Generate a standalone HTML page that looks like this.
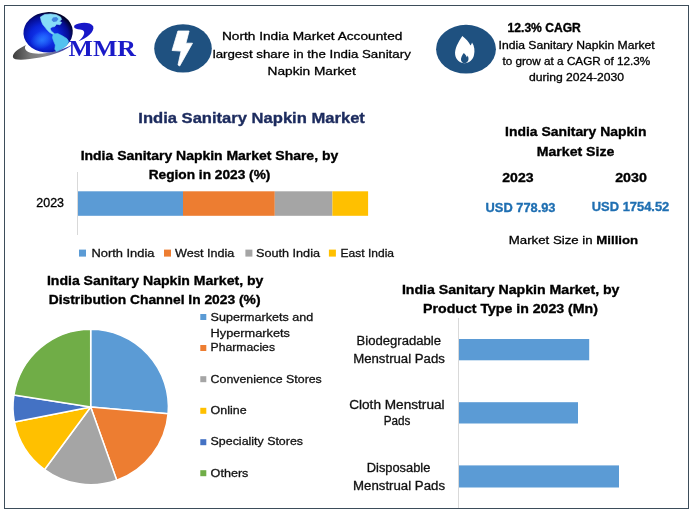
<!DOCTYPE html>
<html lang="en"><head><meta charset="utf-8"><title>India Sanitary Napkin Market</title>
<style>
html,body{margin:0;padding:0;background:#fff;}
svg{display:block;}
text{white-space:pre;}
</style></head><body>
<svg width="694" height="516" viewBox="0 0 694 516">
<defs>
<radialGradient id="gl" cx="0.42" cy="0.6" r="0.6">
<stop offset="0" stop-color="#1848ff"/><stop offset="0.5" stop-color="#0a24d8"/><stop offset="0.82" stop-color="#050c90"/><stop offset="1" stop-color="#01032c"/>
</radialGradient>
<radialGradient id="glow" cx="0.5" cy="0.5" r="0.5">
<stop offset="0" stop-color="#2a7cff" stop-opacity="0.9"/><stop offset="1" stop-color="#2a7cff" stop-opacity="0"/>
</radialGradient>
<linearGradient id="sw" x1="0" y1="0" x2="1" y2="0">
<stop offset="0" stop-color="#3c3c3c"/><stop offset="0.3" stop-color="#7a7a7a"/><stop offset="0.55" stop-color="#8a8a90"/><stop offset="0.8" stop-color="#4a50a8"/><stop offset="1" stop-color="#1a28b8"/>
</linearGradient>
</defs>
<rect x="0" y="0" width="694" height="516" fill="#ffffff"/>
<rect x="4.5" y="5.5" width="684" height="503" fill="none" stroke="#3d4d5a" stroke-width="1"/>

<g id="logo">
<path d="M12.9,56.7 C12.6,53.5 17,49.5 25.9,45 C23.6,48.6 25.5,52 33,53.3 C44,54.8 60,51.5 72.8,44.3 C66,50.5 54,55 40,57.6 C30,59.4 20,60.2 15.5,59.2 C13.8,58.6 13,57.8 12.9,56.7 Z" fill="url(#sw)"/>
<ellipse cx="48.1" cy="32.3" rx="24.7" ry="20.2" fill="url(#gl)" transform="rotate(-4 48.1 32.3)"/>
<ellipse cx="42" cy="40" rx="12" ry="9" fill="url(#glow)" transform="rotate(-20 42 40)"/>
<path d="M40.4,17 L44.5,14.6 L50.7,13.9 L56.5,14.8 L60.6,17 L61.6,19.5 L59.4,21.3 L61.7,22.4 L60,24.8 L56.5,24.2 L54.8,26.5 L51.9,27.1 L50.1,28.8 L51.3,31.2 L53.6,32.9 L54.8,35 L52.4,34.1 L49.5,32.3 L47.2,30 L44.9,27.1 L42.6,24.2 L41.2,20.7 Z" fill="#86dcf8" stroke="#86dcf8" stroke-width="0.6" stroke-linejoin="round"/>
<path d="M53,17.5 L56.5,17 L58.5,19 L56.5,21.5 L53.5,22 L51.5,20 Z" fill="#2a66d8" opacity="0.75"/>
<path d="M53.3,34.1 L57.7,33.5 L62.3,35.8 L67,38.7 L68.7,41.6 L67,45.1 L64.1,47.4 L60,49.8 L56.5,51.5 L54.8,49.2 L55.3,45.1 L53.6,41 L52.4,37.6 Z" fill="#52c2f0" stroke="#52c2f0" stroke-width="0.6" stroke-linejoin="round"/>
<path d="M74.6,25.2 C79,22 90.5,21.4 93.2,26.2 C95,31.8 86.5,38.3 78.4,41.3 C84.3,36.3 86,31.6 82.3,30 C79.5,28.9 76.2,29.6 74.7,28 C74,27.2 73.9,26 74.6,25.2 Z" fill="#1818c8"/>
</g>
<text x="68.6" y="55.6" textLength="67.4" lengthAdjust="spacingAndGlyphs" font-family='"Liberation Serif", serif' font-size="22.8" font-weight="bold" fill="#1a1ac8" >MMR</text>
<ellipse cx="183" cy="48.4" rx="28.8" ry="24.2" fill="#1f5180"/>
<path d="M177.9,31 L189.1,31 L185.9,43.2 L192.5,43.2 L179.7,66 L178,64.9 L181.1,51.1 L172.1,50.5 Z" fill="#fff" stroke="#fff" stroke-width="0.8" stroke-linejoin="round"/>
<ellipse cx="466" cy="49.2" rx="29.9" ry="24.4" fill="#1f5180"/>
<path d="M462.3,36 C466,39 469,42 470.5,45.5 C471.3,44.5 471.8,43.5 472,42.5 C474.5,46 475,51 474,55 C473,59.5 469.5,63 464.5,63.2 C459.5,63 456,59.5 455.2,55 C454.3,48.5 458.5,42 462.3,36 Z" fill="#fff"/>
<path d="M463.8,53 C465.2,54.2 466.3,55.6 466.8,57.2 C467.2,56.6 467.5,56 467.6,55.4 C468.8,57.4 468.8,59.8 467.8,61.3 C467,62.6 465.8,63.2 464.6,63.2 C463,63.2 461.6,62.2 461.1,60.6 C460.5,58 462,55.4 463.8,53 Z" fill="#1f5180"/>
<text x="221.9" y="39.8" textLength="180.5" lengthAdjust="spacingAndGlyphs" font-family='"Liberation Sans", sans-serif' font-size="11.8" font-weight="normal" fill="#000" stroke="#000" stroke-width="0.3">North India Market Accounted</text>
<text x="212.7" y="57.5" textLength="198.1" lengthAdjust="spacingAndGlyphs" font-family='"Liberation Sans", sans-serif' font-size="11.8" font-weight="normal" fill="#000" stroke="#000" stroke-width="0.3">largest share in the India Sanitary</text>
<text x="267.6" y="75.3" textLength="88.2" lengthAdjust="spacingAndGlyphs" font-family='"Liberation Sans", sans-serif' font-size="11.8" font-weight="normal" fill="#000" stroke="#000" stroke-width="0.3">Napkin Market</text>
<text x="507.6" y="32.0" textLength="73.2" lengthAdjust="spacingAndGlyphs" font-family='"Liberation Sans", sans-serif' font-size="12.0" font-weight="bold" fill="#000" stroke="#000" stroke-width="0.35">12.3% CAGR</text>
<text x="498.6" y="49.1" textLength="156.1" lengthAdjust="spacingAndGlyphs" font-family='"Liberation Sans", sans-serif' font-size="11.1" font-weight="normal" fill="#000" stroke="#000" stroke-width="0.3">India Sanitary Napkin Market</text>
<text x="502.4" y="64.7" textLength="147.9" lengthAdjust="spacingAndGlyphs" font-family='"Liberation Sans", sans-serif' font-size="11.1" font-weight="normal" fill="#000" stroke="#000" stroke-width="0.3">to grow at a CAGR of 12.3%</text>
<text x="528.9" y="80.7" textLength="95.2" lengthAdjust="spacingAndGlyphs" font-family='"Liberation Sans", sans-serif' font-size="11.1" font-weight="normal" fill="#000" stroke="#000" stroke-width="0.3">during 2024-2030</text>
<text x="138.3" y="122.6" textLength="226.6" lengthAdjust="spacingAndGlyphs" font-family='"Liberation Sans", sans-serif' font-size="15.2" font-weight="bold" fill="#1c2b5e" stroke="#1c2b5e" stroke-width="0.35">India Sanitary Napkin Market</text>
<text x="80.7" y="159.6" textLength="257.5" lengthAdjust="spacingAndGlyphs" font-family='"Liberation Sans", sans-serif' font-size="13.2" font-weight="bold" fill="#000" stroke="#000" stroke-width="0.35">India Sanitary Napkin Market Share, by</text>
<text x="148.7" y="178.9" textLength="121.7" lengthAdjust="spacingAndGlyphs" font-family='"Liberation Sans", sans-serif' font-size="13.2" font-weight="bold" fill="#000" stroke="#000" stroke-width="0.35">Region in 2023 (%)</text>
<line x1="77.5" y1="172" x2="77.5" y2="235" stroke="#d9d9d9" stroke-width="1"/>
<rect x="78" y="191.3" width="105.0" height="24.5" fill="#5b9bd5"/>
<rect x="183" y="191.3" width="91.8" height="24.5" fill="#ed7d31"/>
<rect x="274.8" y="191.3" width="57.6" height="24.5" fill="#a5a5a5"/>
<rect x="332.4" y="191.3" width="35.7" height="24.5" fill="#ffc000"/>
<text x="36.3" y="207.1" textLength="27.7" lengthAdjust="spacingAndGlyphs" font-family='"Liberation Sans", sans-serif' font-size="12.2" font-weight="normal" fill="#000" stroke="#000" stroke-width="0.3">2023</text>
<rect x="79" y="249.6" width="7" height="7" fill="#5b9bd5"/>
<text x="91.4" y="256.7" textLength="63.1" lengthAdjust="spacingAndGlyphs" font-family='"Liberation Sans", sans-serif' font-size="11.7" font-weight="normal" fill="#111" stroke="#111" stroke-width="0.3">North India</text>
<rect x="164" y="249.6" width="7" height="7" fill="#ed7d31"/>
<text x="175.0" y="256.7" textLength="59.4" lengthAdjust="spacingAndGlyphs" font-family='"Liberation Sans", sans-serif' font-size="11.7" font-weight="normal" fill="#111" stroke="#111" stroke-width="0.3">West India</text>
<rect x="245.4" y="249.6" width="7" height="7" fill="#a5a5a5"/>
<text x="256.0" y="256.7" textLength="64.0" lengthAdjust="spacingAndGlyphs" font-family='"Liberation Sans", sans-serif' font-size="11.7" font-weight="normal" fill="#111" stroke="#111" stroke-width="0.3">South India</text>
<rect x="328.9" y="249.6" width="7" height="7" fill="#ffc000"/>
<text x="340.5" y="256.7" textLength="53.5" lengthAdjust="spacingAndGlyphs" font-family='"Liberation Sans", sans-serif' font-size="11.7" font-weight="normal" fill="#111" stroke="#111" stroke-width="0.3">East India</text>
<text x="505.1" y="136.2" textLength="141.4" lengthAdjust="spacingAndGlyphs" font-family='"Liberation Sans", sans-serif' font-size="13.2" font-weight="bold" fill="#000" stroke="#000" stroke-width="0.35">India Sanitary Napkin</text>
<text x="536.8" y="156.4" textLength="77.5" lengthAdjust="spacingAndGlyphs" font-family='"Liberation Sans", sans-serif' font-size="13.2" font-weight="bold" fill="#000" stroke="#000" stroke-width="0.35">Market Size</text>
<text x="502.3" y="181.9" textLength="31.2" lengthAdjust="spacingAndGlyphs" font-family='"Liberation Sans", sans-serif' font-size="13.0" font-weight="bold" fill="#000" stroke="#000" stroke-width="0.35">2023</text>
<text x="615.2" y="181.9" textLength="31.6" lengthAdjust="spacingAndGlyphs" font-family='"Liberation Sans", sans-serif' font-size="13.0" font-weight="bold" fill="#000" stroke="#000" stroke-width="0.35">2030</text>
<text x="485.6" y="211.6" textLength="69.9" lengthAdjust="spacingAndGlyphs" font-family='"Liberation Sans", sans-serif' font-size="12.9" font-weight="bold" fill="#1f6fb2" stroke="#1f6fb2" stroke-width="0.35">USD 778.93</text>
<text x="591.8" y="210.8" textLength="77.5" lengthAdjust="spacingAndGlyphs" font-family='"Liberation Sans", sans-serif' font-size="12.9" font-weight="bold" fill="#1f6fb2" stroke="#1f6fb2" stroke-width="0.35">USD 1754.52</text>
<text x="508.8" y="244" textLength="129.4" lengthAdjust="spacingAndGlyphs" font-family='"Liberation Sans", sans-serif' font-size="11.8" fill="#000" stroke="#000" stroke-width="0.3">Market Size in <tspan font-weight="bold">Million</tspan></text>
<text x="46.9" y="284.9" textLength="216.5" lengthAdjust="spacingAndGlyphs" font-family='"Liberation Sans", sans-serif' font-size="13.2" font-weight="bold" fill="#000" stroke="#000" stroke-width="0.35">India Sanitary Napkin Market, by</text>
<text x="48.7" y="304.2" textLength="211.8" lengthAdjust="spacingAndGlyphs" font-family='"Liberation Sans", sans-serif' font-size="13.2" font-weight="bold" fill="#000" stroke="#000" stroke-width="0.35">Distribution Channel In 2023 (%)</text>
<path d="M90.7,407 L90.70,329.30 A77.7,77.7 0 0 1 168.12,413.64 Z" fill="#5b9bd5" stroke="#fff" stroke-width="1.5" stroke-linejoin="round"/>
<path d="M90.7,407 L168.12,413.64 A77.7,77.7 0 0 1 116.76,480.20 Z" fill="#ed7d31" stroke="#fff" stroke-width="1.5" stroke-linejoin="round"/>
<path d="M90.7,407 L116.76,480.20 A77.7,77.7 0 0 1 44.59,469.54 Z" fill="#a5a5a5" stroke="#fff" stroke-width="1.5" stroke-linejoin="round"/>
<path d="M90.7,407 L44.59,469.54 A77.7,77.7 0 0 1 14.48,422.09 Z" fill="#ffc000" stroke="#fff" stroke-width="1.5" stroke-linejoin="round"/>
<path d="M90.7,407 L14.48,422.09 A77.7,77.7 0 0 1 13.91,395.11 Z" fill="#4472c4" stroke="#fff" stroke-width="1.5" stroke-linejoin="round"/>
<path d="M90.7,407 L13.91,395.11 A77.7,77.7 0 0 1 90.70,329.30 Z" fill="#70ad47" stroke="#fff" stroke-width="1.5" stroke-linejoin="round"/>
<rect x="200.3" y="314" width="6" height="6" fill="#5b9bd5"/>
<text x="210.6" y="320.5" textLength="102.6" lengthAdjust="spacingAndGlyphs" font-family='"Liberation Sans", sans-serif' font-size="11.7" font-weight="normal" fill="#111" stroke="#111" stroke-width="0.3">Supermarkets and</text>
<text x="210.6" y="337.2" textLength="79.4" lengthAdjust="spacingAndGlyphs" font-family='"Liberation Sans", sans-serif' font-size="11.7" font-weight="normal" fill="#111" stroke="#111" stroke-width="0.3">Hypermarkets</text>
<rect x="200.3" y="345" width="6" height="6" fill="#ed7d31"/>
<text x="210.6" y="351.4" textLength="64.4" lengthAdjust="spacingAndGlyphs" font-family='"Liberation Sans", sans-serif' font-size="11.7" font-weight="normal" fill="#111" stroke="#111" stroke-width="0.3">Pharmacies</text>
<rect x="200.3" y="376.2" width="6" height="6" fill="#a5a5a5"/>
<text x="210.6" y="382.8" textLength="111.2" lengthAdjust="spacingAndGlyphs" font-family='"Liberation Sans", sans-serif' font-size="11.7" font-weight="normal" fill="#111" stroke="#111" stroke-width="0.3">Convenience Stores</text>
<rect x="200.3" y="407.8" width="6" height="6" fill="#ffc000"/>
<text x="210.6" y="413.8" textLength="36.0" lengthAdjust="spacingAndGlyphs" font-family='"Liberation Sans", sans-serif' font-size="11.7" font-weight="normal" fill="#111" stroke="#111" stroke-width="0.3">Online</text>
<rect x="200.3" y="439.2" width="6" height="6" fill="#4472c4"/>
<text x="210.6" y="445.1" textLength="92.4" lengthAdjust="spacingAndGlyphs" font-family='"Liberation Sans", sans-serif' font-size="11.7" font-weight="normal" fill="#111" stroke="#111" stroke-width="0.3">Speciality Stores</text>
<rect x="200.3" y="470.2" width="6" height="6" fill="#70ad47"/>
<text x="210.6" y="476.5" textLength="37.8" lengthAdjust="spacingAndGlyphs" font-family='"Liberation Sans", sans-serif' font-size="11.7" font-weight="normal" fill="#111" stroke="#111" stroke-width="0.3">Others</text>
<text x="401.9" y="293.7" textLength="217.6" lengthAdjust="spacingAndGlyphs" font-family='"Liberation Sans", sans-serif' font-size="13.2" font-weight="bold" fill="#000" stroke="#000" stroke-width="0.35">India Sanitary Napkin Market, by</text>
<text x="423.1" y="312.9" textLength="174.8" lengthAdjust="spacingAndGlyphs" font-family='"Liberation Sans", sans-serif' font-size="13.2" font-weight="bold" fill="#000" stroke="#000" stroke-width="0.35">Product Type in 2023 (Mn)</text>
<line x1="458.5" y1="318" x2="458.5" y2="508" stroke="#d9d9d9" stroke-width="1"/>
<rect x="459" y="339" width="130.2" height="21.3" fill="#5b9bd5"/>
<rect x="459" y="402.2" width="119.0" height="21.3" fill="#5b9bd5"/>
<rect x="459" y="465.4" width="160.0" height="22.1" fill="#5b9bd5"/>
<text x="356.6" y="344.8" textLength="84.4" lengthAdjust="spacingAndGlyphs" font-family='"Liberation Sans", sans-serif' font-size="12.3" font-weight="normal" fill="#111" stroke="#111" stroke-width="0.3">Biodegradable</text>
<text x="353.2" y="362.7" textLength="91.7" lengthAdjust="spacingAndGlyphs" font-family='"Liberation Sans", sans-serif' font-size="12.3" font-weight="normal" fill="#111" stroke="#111" stroke-width="0.3">Menstrual Pads</text>
<text x="349.2" y="408.8" textLength="95.4" lengthAdjust="spacingAndGlyphs" font-family='"Liberation Sans", sans-serif' font-size="12.3" font-weight="normal" fill="#111" stroke="#111" stroke-width="0.3">Cloth Menstrual</text>
<text x="383.7" y="425.3" textLength="26.7" lengthAdjust="spacingAndGlyphs" font-family='"Liberation Sans", sans-serif' font-size="12.3" font-weight="normal" fill="#111" stroke="#111" stroke-width="0.3">Pads</text>
<text x="366.8" y="472.0" textLength="63.5" lengthAdjust="spacingAndGlyphs" font-family='"Liberation Sans", sans-serif' font-size="12.3" font-weight="normal" fill="#111" stroke="#111" stroke-width="0.3">Disposable</text>
<text x="353.1" y="489.8" textLength="91.9" lengthAdjust="spacingAndGlyphs" font-family='"Liberation Sans", sans-serif' font-size="12.3" font-weight="normal" fill="#111" stroke="#111" stroke-width="0.3">Menstrual Pads</text>
</svg></body></html>
